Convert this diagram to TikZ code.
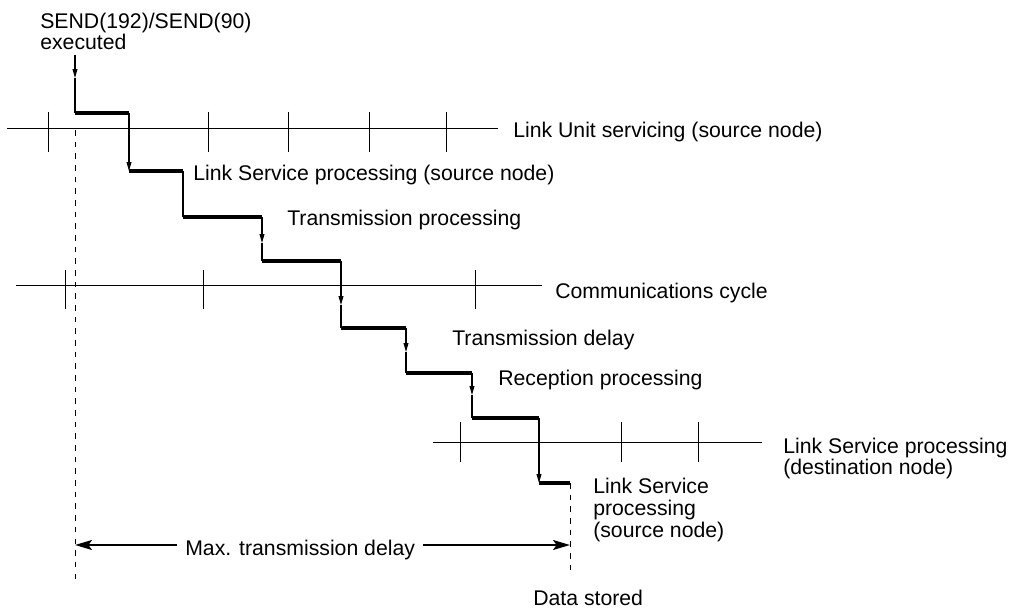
\documentclass[tikz,border=0pt]{standalone}
\usepackage{fontspec}
\setmainfont{Liberation Sans}
\usetikzlibrary{arrows.meta}

\begin{document}
\begin{tikzpicture}[
    x=0.025cm, y=-0.025cm,
    every node/.style={font=\fontsize{15.1}{15.3}\selectfont, inner sep=0pt},
    lbl/.style={anchor=base west},
    mlbl/.style={anchor=north west, align=left},
    axis/.style={line width=0.7pt},
    busy/.style={line width=2.8pt},
    wait/.style={line width=0.8pt},
    waitarr/.style={wait, -{Triangle[length=6.3pt,width=3.4pt]}},
    guide/.style={line width=0.7pt, dash pattern=on 4pt off 4.3pt},
    span/.style={line width=1.8pt, -{Stealth[length=12pt,width=7pt,inset=2.5pt]}}
]
\useasboundingbox (0,0) rectangle (1010,610);

% time lines and their ticks
\draw[axis] (7,128) -- (498,128);
\foreach \t in {48,208,288,369,446} \draw[axis] (\t,112) -- (\t,152);
\draw[axis] (16,285) -- (542,285);
\foreach \t in {65,203,475} \draw[axis] (\t,270) -- (\t,309);
\draw[axis] (433,442) -- (762,442);
\foreach \t in {460,621,698} \draw[axis] (\t,422) -- (\t,462);

% labels
\node[mlbl, font=\fontsize{15.1}{13.5}\selectfont] (send) at (40,12.7) {SEND(192)/SEND(90)\\executed};
\node[lbl] (luserv) at (513,138) {Link Unit servicing (source node)};
\node[lbl] (lssrc) at (193,180) {Link Service processing (source node)};
\node[lbl] (txproc) at (287,225) {Transmission processing};
\node[lbl] (cycle) at (555,298) {Communications cycle};
\node[lbl] (txdelay) at (452,345) {Transmission delay};
\node[lbl] (rxproc) at (498,385) {Reception processing};
\node[mlbl, font=\fontsize{15.1}{14.9}\selectfont] (lsdest) at (783,437.7) {Link Service processing\\(destination node)};
\node[mlbl, font=\fontsize{15.1}{15.6}\selectfont] (lsend) at (593,477.7) {Link Service\\processing\\(source node)};
\node[lbl] (datast) at (533,605) {Data stored};

% processing staircase
\draw[waitarr] (75,55) -- (75,78);
\draw[wait] (75,78) -- (75,113);
\draw[busy] (75,113) -- (129,113);
\draw[waitarr] (129,113) -- (129,171);
\draw[busy] (129,171) -- (183,171);
\draw[wait] (183,171) -- (183,217);
\draw[busy] (183,217) -- (262,217);
\draw[waitarr] (262,217) -- (262,243);
\draw[wait] (262,243) -- (262,261);
\draw[busy] (262,261) -- (341,261);
\draw[waitarr] (341,261) -- (341,305);
\draw[wait] (341,305) -- (341,328);
\draw[busy] (341,328) -- (406,328);
\draw[waitarr] (406,328) -- (406,352);
\draw[wait] (406,352) -- (406,373);
\draw[busy] (406,373) -- (472,373);
\draw[waitarr] (472,373) -- (472,395);
\draw[wait] (472,395) -- (472,418);
\draw[busy] (472,418) -- (539,418);
\draw[waitarr] (539,418) -- (539,483);
\draw[busy] (539,483) -- (570,483);

% start and end of the delay
\coordinate (sent) at (75,545);
\coordinate (stored) at (570,545);
\draw[guide] (75,130) -- (75,579);
\draw[guide] (570,483) -- (570,570);

\node[lbl, inner xsep=5.7pt] (maxd) at (177,555) {Max. transmission delay};
\draw[span] (maxd.west |- sent) -- (sent);
\draw[span] (maxd.east |- stored) -- (stored);
\end{tikzpicture}
\end{document}
